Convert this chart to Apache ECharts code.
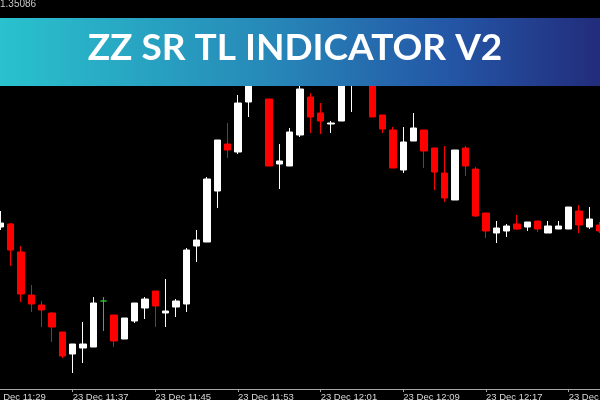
<!DOCTYPE html>
<html>
<head>
<meta charset="utf-8">
<script src="https://cdn.jsdelivr.net/npm/echarts@6/dist/echarts.min.js"></script>
<style>
html,body{margin:0;padding:0;background:#000;}
#chart{width:600px;height:400px;}
</style>
</head>
<body>
<div id="chart"></div>
<script>
// 1-minute candles, 23 Dec
var categories = [
  '11:29','11:30','11:31','11:32','11:33','11:34','11:35','11:36','11:37','11:38',
  '11:39','11:40','11:41','11:42','11:43','11:44','11:45','11:46','11:47','11:48',
  '11:49','11:50','11:51','11:52','11:53','11:54','11:55','11:56','11:57','11:58',
  '11:59','12:00','12:01','12:02','12:03','12:04','12:05','12:06','12:07','12:08',
  '12:09','12:10','12:11','12:12','12:13','12:14','12:15','12:16','12:17','12:18',
  '12:19','12:20','12:21','12:22','12:23','12:24','12:25','12:26','12:27','12:28'
];
var openPrices = [
  1.34854,1.34859,1.34862,1.34834,1.34791,1.34781,1.34773,1.34754,1.34732,1.34738,
  1.34739,1.34785,1.34771,1.34747,1.34765,1.34778,1.34795,1.34773,1.34779,1.34782,
  1.34840,1.34844,1.34895,1.34942,1.34934,1.34984,1.35006,1.34987,1.34922,1.34920,
  1.34951,1.34989,1.34973,1.34962,1.34965,1.35016,1.35046,1.35026,1.34971,1.34956,
  1.34916,1.34945,1.34956,1.34938,1.34913,1.34886,1.34938,1.34917,1.34873,1.34853,
  1.34855,1.34862,1.34859,1.34865,1.34853,1.34857,1.34857,1.34875,1.34859,1.34861
];
var closePrices = [
  1.34866,1.34863,1.34836,1.34792,1.34782,1.34776,1.34759,1.34730,1.34742,1.34742,
  1.34783,1.34785,1.34745,1.34768,1.34783,1.34787,1.34780,1.34775,1.34785,1.34836,
  1.34846,1.34907,1.34946,1.34936,1.34983,1.35011,1.35041,1.34920,1.34925,1.34954,
  1.34997,1.34969,1.34965,1.34963,1.35016,1.35046,1.35016,1.34969,1.34957,1.34918,
  1.34944,1.34958,1.34935,1.34914,1.34888,1.34936,1.34920,1.34870,1.34855,1.34858,
  1.34860,1.34857,1.34864,1.34857,1.34860,1.34860,1.34879,1.34861,1.34867,1.34855
];
var lowPrices = [
  1.34850,1.34856,1.34820,1.34784,1.34774,1.34759,1.34744,1.34728,1.34713,1.34723,
  1.34739,1.34755,1.34739,1.34747,1.34763,1.34767,1.34759,1.34759,1.34769,1.34774,
  1.34824,1.34844,1.34878,1.34928,1.34932,1.34969,1.35002,1.34920,1.34897,1.34920,
  1.34949,1.34953,1.34952,1.34953,1.34965,1.34974,1.35001,1.34969,1.34953,1.34918,
  1.34913,1.34945,1.34918,1.34896,1.34884,1.34886,1.34910,1.34869,1.34848,1.34843,
  1.34849,1.34856,1.34855,1.34854,1.34853,1.34857,1.34857,1.34853,1.34857,1.34853
];
var highPrices = [
  1.34874,1.34875,1.34863,1.34840,1.34801,1.34785,1.34774,1.34754,1.34742,1.34764,
  1.34789,1.34789,1.34771,1.34768,1.34783,1.34789,1.34795,1.34807,1.34787,1.34838,
  1.34856,1.34909,1.34946,1.34963,1.34991,1.35016,1.35051,1.34987,1.34942,1.34958,
  1.35006,1.34993,1.34983,1.34965,1.35026,1.35056,1.35056,1.35031,1.34971,1.34959,
  1.34959,1.34973,1.34956,1.34938,1.34940,1.34936,1.34940,1.34919,1.34873,1.34865,
  1.34862,1.34871,1.34864,1.34865,1.34865,1.34865,1.34879,1.34881,1.34879,1.34864
];
var topPriceLabel = '1.35086';
var titleText = 'ZZ SR TL INDICATOR V2';
var datePrefix = '23 Dec ';

var dojiColor = '#33bb33';
var candleData = categories.map(function (c, i) {
  var v = [openPrices[i], closePrices[i], lowPrices[i], highPrices[i]];
  if (openPrices[i] === closePrices[i]) {
    return {value: v, itemStyle: {color: dojiColor, color0: dojiColor, borderColor: dojiColor, borderColor0: dojiColor}};
  }
  return v;
});

var chart = echarts.init(document.getElementById('chart'), null, {renderer: 'canvas'});
chart.setOption({
  backgroundColor: '#000000',
  animation: false,
  grid: {left: -15.17, right: -4.83, top: 0, bottom: 11, containLabel: false, outerBoundsMode: 'none'},
  xAxis: {
    type: 'category',
    data: categories,
    boundaryGap: true,
    axisLine: {show: true, lineStyle: {color: '#a8a8a8', width: 1}},
    axisTick: {show: true, alignWithLabel: true, interval: 7, length: 3, lineStyle: {color: '#a8a8a8'}},
    axisLabel: {
      interval: 7,
      align: 'left',
      margin: 3,
      color: '#d8d8d8',
      fontSize: 9.5,
      fontFamily: 'Liberation Sans',
      hideOverlap: false,
      formatter: function (v) { return datePrefix + v; }
    },
    splitLine: {show: false}
  },
  yAxis: {
    type: 'value',
    min: 1.34697,
    max: 1.35086,
    show: false,
    splitLine: {show: false}
  },
  series: [{
    type: 'candlestick',
    data: candleData,
    barWidth: 7,
    itemStyle: {
      color: '#ffffff',
      color0: '#ff0000',
      borderColor: '#ffffff',
      borderColor0: '#ff0000',
      borderWidth: 1
    }
  }],
  graphic: [
    {
      type: 'text', left: 0, top: -1, z: 100,
      style: {text: topPriceLabel, fill: '#c8c8c8', fontSize: 10, fontFamily: 'Liberation Sans'}
    },
    {
      type: 'rect', z: 100,
      shape: {x: 0, y: 18, width: 600, height: 68},
      style: {
        fill: new echarts.graphic.LinearGradient(0, 0, 1, 0, [
          {offset: 0, color: '#29c2cd'},
          {offset: 0.45, color: '#2788b8'},
          {offset: 0.75, color: '#2456a6'},
          {offset: 1, color: '#222c7b'}
        ])
      }
    },
    {
      type: 'text', z: 101,
      x: 295, y: 48,
      style: {
        text: titleText, fill: '#ffffff',
        fontSize: 37, fontWeight: 'bold', fontFamily: 'Lato',
        align: 'center', verticalAlign: 'middle'
      }
    }
  ]
});
</script>
</body>
</html>
